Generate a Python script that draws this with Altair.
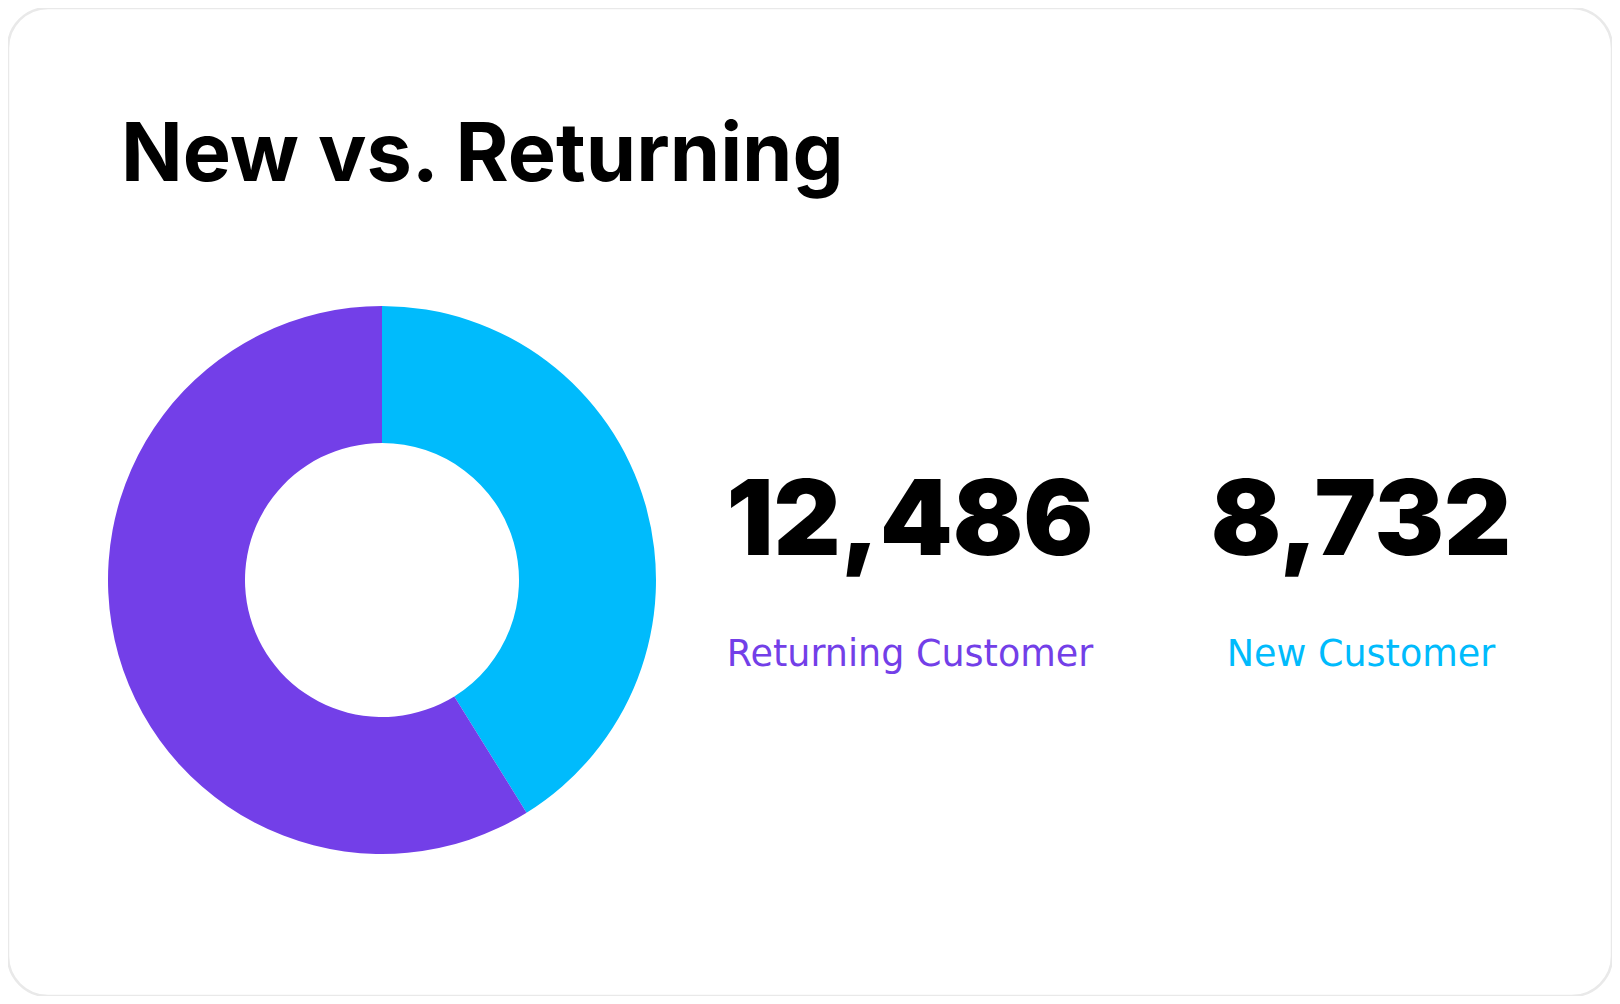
import altair as alt
import pandas as pd

categories = ["New Customer", "Returning Customer"]
values = [8732, 12486]
colors = ["#00BBFC", "#733FE8"]
title_text = "New vs. Returning"

df = pd.DataFrame({"category": categories, "value": values, "order": [0, 1]})

W, H = 1604, 988

color_scale = alt.Scale(domain=categories, range=colors)

donut = alt.Chart(df).mark_arc(
    innerRadius=137, outerRadius=274
).encode(
    theta=alt.Theta("value:Q", stack=True),
    order=alt.Order("order:Q"),
    color=alt.Color("category:N", scale=color_scale, legend=None),
    x=alt.value(374),
    y=alt.value(572),
)

xpos = alt.Scale(type="point", padding=0,
                 domain=["Returning Customer", "New Customer"], range=[902, 1353])

numbers = alt.Chart(df).mark_text(
    font="Inter", fontWeight=900, fontSize=104, align="center", baseline="alphabetic", color="#000000"
).encode(
    x=alt.X("category:N", scale=xpos, axis=None),
    y=alt.value(547),
    text=alt.Text("value:Q", format=","),
)

labels = alt.Chart(df).mark_text(
    font="DejaVu Sans", fontSize=36.5, align="center", baseline="alphabetic"
).encode(
    x=alt.X("category:N", scale=xpos, axis=None),
    y=alt.value(658),
    text="category:N",
    color=alt.Color("category:N", scale=color_scale, legend=None),
)

title = alt.Chart(pd.DataFrame({"t": [title_text]})).mark_text(
    font="Inter", fontWeight=700, fontSize=81, align="left", baseline="alphabetic", color="#000000"
).encode(
    x=alt.value(113),
    y=alt.value(173),
    text="t:N",
)

chart = alt.layer(donut, numbers, labels, title).properties(
    width=W, height=H, padding=0, autosize=alt.AutoSizeParams(type="none"),
    background="#ffffff",
).configure_view(
    stroke="#e9e9e9", strokeWidth=2.5, cornerRadius=40
)

chart.save("out.html", embed_options={"renderer": "svg", "actions": False})
